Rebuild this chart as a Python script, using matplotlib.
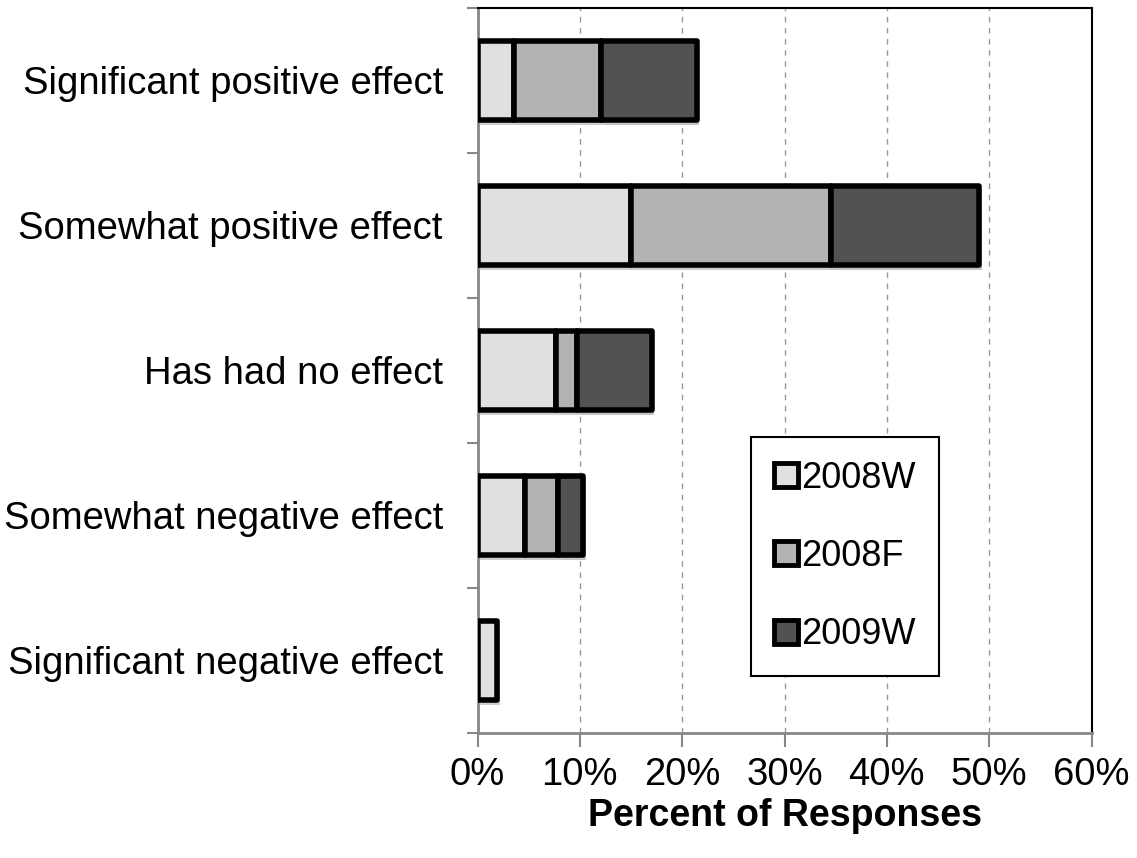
import numpy as np
import matplotlib.pyplot as plt
import matplotlib.patheffects as pe

plt.rcParams['font.family'] = ['Liberation Sans', 'DejaVu Sans']

# Survey categories, top to bottom as drawn
categories = ['Significant positive effect', 'Somewhat positive effect',
              'Has had no effect', 'Somewhat negative effect',
              'Significant negative effect']
series = ['2008W', '2008F', '2009W']
w2008 = [3.6, 15.0, 7.7, 4.6, 1.9]
f2008 = [8.5, 19.5, 2.0, 3.3, 0.0]
w2009 = [9.3, 14.5, 7.3, 2.4, 0.0]
colors = ['#e0e0e0', '#b3b3b3', '#525252']

fig = plt.figure(figsize=(11.37, 8.58), dpi=100)
ax = fig.add_axes([0.420, 0.1457, 0.540, 0.845])

y = np.arange(len(categories))[::-1]
left = np.zeros(len(categories))
shadow = [pe.SimplePatchShadow(offset=(2, -3), alpha=0.25), pe.Normal()]
for name, vals, c in zip(series, [w2008, f2008, w2009], colors):
    vals = np.array(vals)
    mask = vals > 0
    bars = ax.barh(y[mask], vals[mask], left=left[mask], height=0.55,
                   color=c, edgecolor='black', linewidth=4, label=name,
                   zorder=3)
    for b in bars:
        b.set_joinstyle('round')
        b.set_path_effects(shadow)
    left += vals

ax.set_xlim(0, 60)
ax.set_ylim(-0.5, len(categories) - 0.5)
ax.set_xticks(np.arange(0, 61, 10))
ax.set_xticklabels([f'{v}%' for v in range(0, 61, 10)], fontsize=27.5)
ax.set_yticks(y)
ax.set_yticklabels(categories, fontsize=27.5)
ax.set_yticks(np.arange(-0.5, len(categories), 1.0), minor=True)
ax.tick_params(axis='y', which='major', length=0, pad=25)
ax.tick_params(axis='y', which='minor', length=8, color='#888888', width=1.5)
ax.tick_params(axis='x', length=10, color='#888888', width=1.5, pad=7)

ax.grid(axis='x', linestyle=(0, (4, 4)), color='#999999', linewidth=1, zorder=0)
ax.set_axisbelow(True)
for s in ['left', 'bottom']:
    ax.spines[s].set_color('#888888')
    ax.spines[s].set_linewidth(2)
for s in ['top', 'right']:
    ax.spines[s].set_color('black')
    ax.spines[s].set_linewidth(1.5)

ax.set_xlabel('Percent of Responses', fontsize=27, fontweight='bold', labelpad=4)

leg = ax.legend(loc='upper left', bbox_to_anchor=(0.445, 0.408), fontsize=26,
                handlelength=0.65, handleheight=0.65, handletextpad=0.1,
                labelspacing=1.2, borderpad=0.65, borderaxespad=0,
                fancybox=False, framealpha=1, edgecolor='black')
leg.get_frame().set_linewidth(1.5)
for h in leg.legend_handles:
    h.set_linewidth(3.5)
    h.set_path_effects([])

fig.savefig('out.png', dpi=100)
